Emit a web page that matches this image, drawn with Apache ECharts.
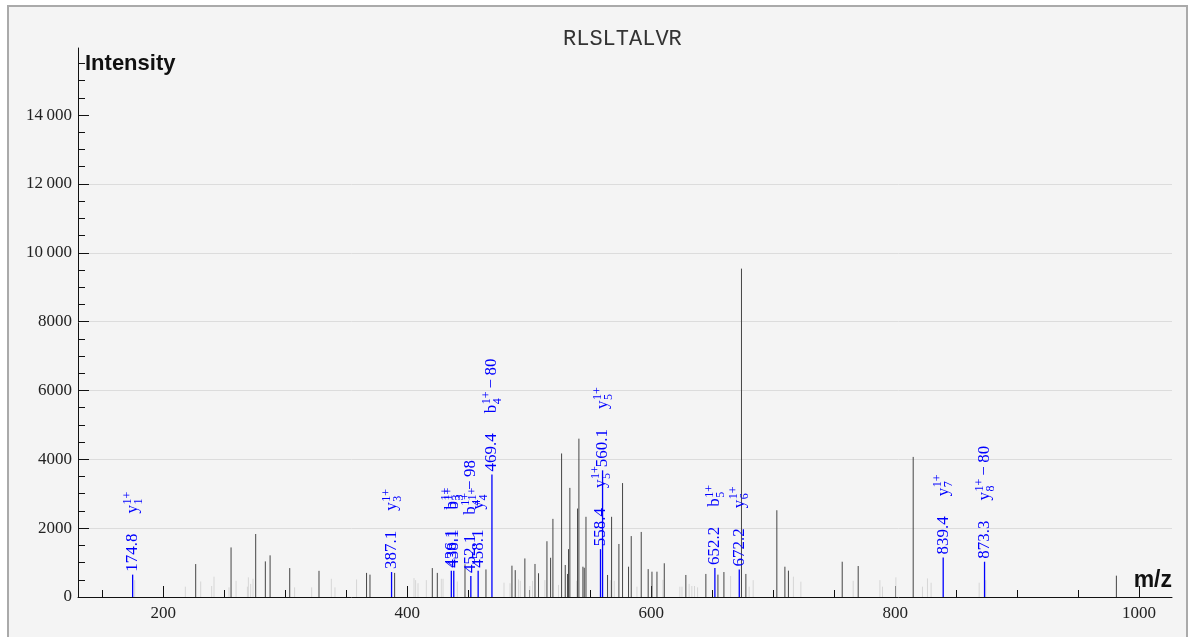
<!DOCTYPE html>
<html>
<head>
<meta charset="utf-8">
<title>RLSLTALVR</title>
<script src="https://cdn.jsdelivr.net/npm/echarts@6/dist/echarts.min.js"></script>
<style>
    html, body { margin: 0; padding: 0; background: #fff; }
    #chart { width: 1190px; height: 637px; }
</style>
</head>
<body>
<div id="chart"></div>
<script>
var peptide = 'RLSLTALVR';

// unassigned peaks
var peakMz = [226.5, 255.5, 275.7, 283.6, 287.5, 303.6, 327.6, 366.6, 369.4, 389.6, 420.5, 424.6, 447.3, 464.5,
    485.8, 488.5, 496.4, 504.7, 507.6, 514.5, 517.5, 519.4, 526.5, 529.5, 531.4, 532.2, 533.3, 539.6, 540.7,
    544.0, 545.1, 546.5, 564.2, 567.5, 573.5, 576.5, 581.4, 583.6, 591.8, 597.5, 600.6, 604.7, 610.7, 628.4,
    644.8, 654.7, 659.6, 674.0, 677.6, 703.0, 709.6, 712.5, 756.6, 769.7, 814.8, 981.4];
var peakInt = [957, 1440, 1830, 1035, 1210, 840, 760, 700, 650, 700, 840, 700, 950, 800,
    910, 780, 1120, 960, 690, 1620, 1140, 2270, 4170, 930, 670, 1390, 3170, 2570, 4600,
    880, 850, 2330, 640, 2330, 1540, 3310, 880, 1770, 1890, 810, 735, 735, 980, 640,
    670, 650, 725, 9540, 670, 2520, 880, 765, 1025, 900, 4070, 620];

// low / filtered peaks (light grey)
var faintMz = [176.5, 218.0, 230.6, 239.6, 241.5, 253.8, 259.6, 268.9, 269.7, 271.6, 273.5, 307.6, 321.6, 337.7,
    340.7, 358.4, 405.5, 406.8, 408.8, 415.6, 427.9, 429.3, 441.0, 479.3, 484.2, 491.2, 492.6, 500.5, 502.7,
    512.8, 524.0, 538.8, 566.4, 569.7, 588.3, 609.6, 623.5, 625.2, 631.1, 633.3, 635.5, 638.0, 665.1, 680.3,
    683.6, 716.6, 722.7, 765.6, 787.5, 789.6, 800.6, 822.4, 826.5, 829.5, 868.9, 874.3];
var faintInt = [490, 300, 450, 320, 590, 280, 470, 300, 570, 380, 530, 280, 280, 530,
    280, 510, 550, 490, 400, 490, 530, 530, 450, 415, 400, 510, 470, 320, 470,
    490, 350, 470, 490, 470, 300, 500, 300, 300, 380, 320, 320, 280, 610, 300,
    490, 590, 445, 470, 490, 300, 570, 300, 540, 415, 415, 490];

// assigned fragment ions
var ionMz = [174.8, 387.1, 436.1, 438.1, 452.1, 458.1, 469.4, 558.4, 560.1, 652.2, 672.2, 839.4, 873.3];
var ionInt = [650, 725, 760, 760, 610, 760, 3560, 1390, 3680, 840, 800, 1150, 1025];
var ionType = ['y', 'y', 'b', 'b', 'b', 'y', 'b', 'y', 'y', 'b', 'y', 'y', 'y'];
var ionNum = [1, 3, 3, 3, 4, 4, 4, 5, 5, 5, 6, 7, 8];
var ionCharge = ['1+', '1+', '1+', '1+', '1+', '1+', '1+', '1+', '1+', '1+', '1+', '1+', '1+'];
var ionLoss = ['', '', '', '', '98', '', '80', '', '', '', '', '', '80'];

// axis ticks
var xMajorTicks = [200, 400, 600, 800, 1000];
var xMinorTicks = [150, 250, 300, 350, 450, 500, 550, 650, 700, 750, 850, 900, 950];
var yMajorTicks = [0, 2000, 4000, 6000, 8000, 10000, 12000, 14000];
var yMinorTicks = [500, 1000, 1500, 2500, 3000, 3500, 4500, 5000, 5500, 6500, 7000, 7500, 8500, 9000, 9500,
    10500, 11000, 11500, 12500, 13000, 13500, 14500, 15000, 15500];

var xMin = 130, xMax = 1027, yMax = 15950;

var blue = '#0000ff';
var labelFont = '17px "Liberation Serif"';
var smallFont = '12px "Liberation Serif"';

var measureCtx = document.createElement('canvas').getContext('2d');
function textWidth(str, font) {
    measureCtx.font = font;
    return measureCtx.measureText(str).width;
}

function pairs(xs, ys) {
    var out = [];
    for (var i = 0; i < xs.length; i++) {
        out.push([xs[i], ys[i]]);
    }
    return out;
}

function stickRenderer(color) {
    return function (params, api) {
        var top = api.coord([api.value(0), api.value(1)]);
        var base = api.coord([api.value(0), 0]);
        return {
            type: 'line',
            shape: { x1: base[0], y1: base[1], x2: top[0], y2: top[1] },
            style: { stroke: color, lineWidth: 1 }
        };
    };
}

function txt(x, y, text, font) {
    return {
        type: 'text', x: x, y: y,
        style: { text: text, font: font, fill: blue, align: 'left', verticalAlign: 'middle' }
    };
}

function renderIon(params, api) {
    var i = params.dataIndex;
    var top = api.coord([api.value(0), api.value(1)]);
    var base = api.coord([api.value(0), 0]);

    var mzText = ionMz[i].toFixed(1);
    var parts = [txt(0, 0, mzText, labelFont)];

    // ion name, sits above the m/z value
    var s = textWidth(mzText, labelFont) + 20;
    parts.push(txt(s, 0, ionType[i], labelFont));
    var sx = s + textWidth(ionType[i], labelFont) + 0.5;
    parts.push(txt(sx, -5, ionCharge[i], smallFont));
    parts.push(txt(sx, 6, String(ionNum[i]), smallFont));
    if (ionLoss[i]) {
        var lx = sx + Math.max(textWidth(ionCharge[i], smallFont), textWidth(String(ionNum[i]), smallFont)) + 3;
        parts.push(txt(lx, 0, '\u2212\u2009' + ionLoss[i], labelFont));
    }

    return {
        type: 'group',
        children: [
            {
                type: 'line',
                shape: { x1: base[0], y1: base[1], x2: top[0], y2: top[1] },
                style: { stroke: blue, lineWidth: 1.3 }
            },
            {
                type: 'group',
                x: top[0],
                y: top[1] - 3,
                rotation: Math.PI / 2,
                children: parts
            }
        ]
    };
}

function yLabel(v) {
    if (v >= 10000) {
        var s = String(v);
        return s.slice(0, s.length - 3) + '\u2009' + s.slice(s.length - 3);
    }
    return String(v);
}

var myChart = echarts.init(document.getElementById('chart'));

var option = {
    backgroundColor: '#fff',
    animation: false,
    graphic: [
        {
            type: 'rect', z: -10, silent: true,
            shape: { x: 8, y: 6, width: 1179, height: 640 },
            style: { fill: '#f4f4f4', stroke: '#aaaaaa', lineWidth: 2 }
        },
        {
            type: 'text', left: 625 - 62, top: 28,
            style: { text: peptide, font: '22px "Liberation Mono"', fill: '#333', width: 124, align: 'center' }
        },
        {
            type: 'text', left: 85, top: 53, z: 100,
            style: { text: 'Intensity', font: 'bold 22px "Liberation Sans"', fill: '#111' }
        },
        {
            type: 'text', right: 18, top: 569, z: 100,
            style: { text: 'm/z', font: 'bold 23px "Liberation Sans"', fill: '#111' }
        }
    ],
    grid: {
        left: 78,
        right: 18,
        top: 48,
        bottom: 40
    },
    xAxis: [
        {
            type: 'value',
            min: xMin,
            max: xMax,
            axisLine: { lineStyle: { color: '#111', width: 1 } },
            axisTick: { inside: true, length: 11, customValues: xMajorTicks, lineStyle: { color: '#111' } },
            axisLabel: {
                customValues: xMajorTicks,
                formatter: function (v) { return String(v); },
                margin: 8,
                color: '#222',
                fontSize: 17,
                fontFamily: 'Liberation Serif'
            },
            splitLine: { show: false }
        },
        {
            type: 'value',
            position: 'bottom',
            offset: 0,
            min: xMin,
            max: xMax,
            axisLine: { show: false },
            axisTick: { inside: true, length: 7, customValues: xMinorTicks, lineStyle: { color: '#111' } },
            axisLabel: { show: false },
            splitLine: { show: false }
        }
    ],
    yAxis: [
        {
            type: 'value',
            min: 0,
            max: yMax,
            interval: 2000,
            axisLine: { show: true, lineStyle: { color: '#111', width: 1 } },
            axisTick: { show: true, inside: true, length: 11, customValues: yMajorTicks, lineStyle: { color: '#111' } },
            axisLabel: {
                customValues: yMajorTicks,
                formatter: yLabel,
                margin: 6,
                color: '#222',
                fontSize: 17,
                fontFamily: 'Liberation Serif'
            },
            splitLine: {
                show: true,
                showMinLine: false,
                showMaxLine: false,
                lineStyle: { color: '#dcdcdc', width: 1 }
            }
        },
        {
            type: 'value',
            position: 'left',
            offset: 0,
            min: 0,
            max: yMax,
            axisLine: { show: false },
            axisTick: { show: true, inside: true, length: 7, customValues: yMinorTicks, lineStyle: { color: '#111' } },
            axisLabel: { show: false },
            splitLine: { show: false }
        }
    ],
    series: [
        {
            name: 'faint',
            type: 'custom',
            xAxisIndex: 0,
            yAxisIndex: 0,
            renderItem: stickRenderer('#d6d6d6'),
            data: pairs(faintMz, faintInt),
            z: 2
        },
        {
            name: 'peaks',
            type: 'custom',
            xAxisIndex: 0,
            yAxisIndex: 0,
            renderItem: stickRenderer('#454545'),
            data: pairs(peakMz, peakInt),
            z: 3
        },
        {
            name: 'ions',
            type: 'custom',
            xAxisIndex: 0,
            yAxisIndex: 0,
            renderItem: renderIon,
            data: pairs(ionMz, ionInt),
            clip: false,
            z: 4
        }
    ]
};

myChart.setOption(option);
window.onresize = myChart.resize;
</script>
</body>
</html>
